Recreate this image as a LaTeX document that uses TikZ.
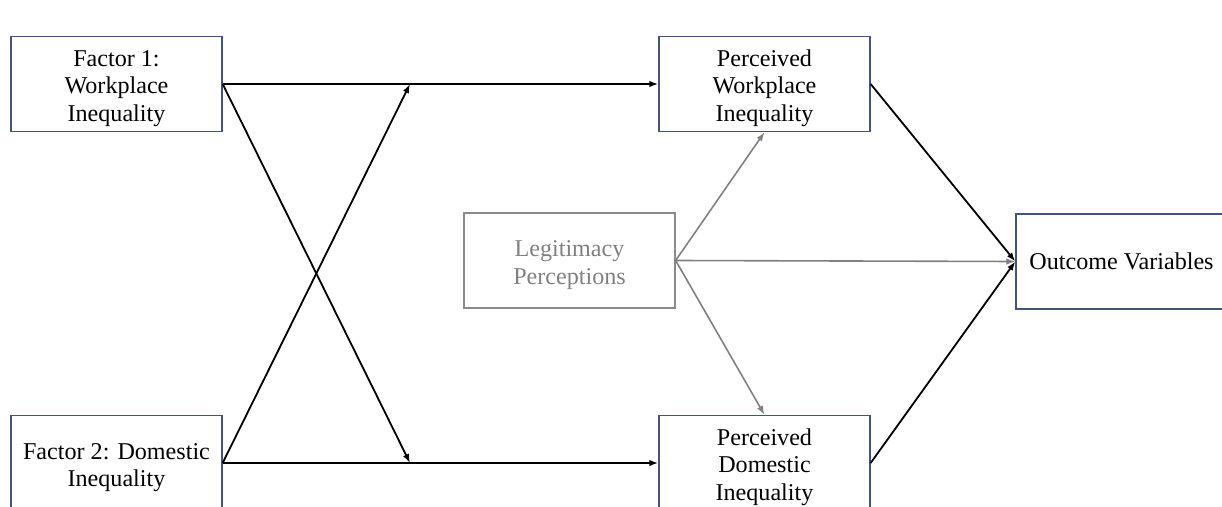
\documentclass[tikz,border=0pt]{standalone}
\usepackage{fontspec}
\setmainfont{Liberation Serif}
\usetikzlibrary{arrows.meta}
\definecolor{boxblue}{HTML}{41557A}
\definecolor{lpgray}{HTML}{8A8A8A}
\definecolor{txtgray}{HTML}{808080}
\newcommand\mytopstrut{\rule{0pt}{25bp}}
\begin{document}
\begin{tikzpicture}[x=1bp,y=-1bp,
  box/.style={draw=boxblue, line width=1.3bp, minimum width=211bp, minimum height=95bp,
    align=center, inner sep=0pt, font=\fontsize{24.2}{27.6}\selectfont},
  graybox/.style={box, draw=lpgray, text=txtgray},
  blackarrow/.style={draw=black, line width=1.8bp, -{Latex[length=9bp,width=6.5bp]}},
  grayarrow/.style={draw=txtgray, line width=1.6bp, -{Latex[length=9bp,width=6.5bp]}}
]
\useasboundingbox (0,0) rectangle (1222,507);
\clip (0,0) rectangle (1222,507);
\node[box] (f1) at (116.5,84) {\mytopstrut Factor 1:\\Workplace\\Inequality};
\node[box] (f2) at (116.5,463) {\mytopstrut Factor 2: Domestic\\Inequality};
\node[box] (pw) at (764.5,84) {\mytopstrut Perceived\\Workplace\\Inequality};
\node[box] (pd) at (764.5,463) {\mytopstrut Perceived\\Domestic\\Inequality};
\node[graybox] (lp) at (569.5,260.5) {\mytopstrut Legitimacy\\Perceptions};
\node[box] (ov) at (1121.5,261.5) {Outcome Variables};
\coordinate (xt) at (410,84);
\coordinate (xb) at (410,463);
\draw[blackarrow] (f1.east) -- (pw.west);
\draw[blackarrow] (f2.east) -- (pd.west);
\draw[blackarrow] (f1.east) -- (xb);
\draw[blackarrow] (f2.east) -- (xt);
\draw[blackarrow] (pw.east) -- (ov.west);
\draw[blackarrow] (pd.east) -- (ov.west);
\draw[grayarrow] (lp.east) -- (pw.south);
\draw[grayarrow] (lp.east) -- (pd.north);
\draw[grayarrow] (lp.east) -- (ov.west);
\end{tikzpicture}
\end{document}
